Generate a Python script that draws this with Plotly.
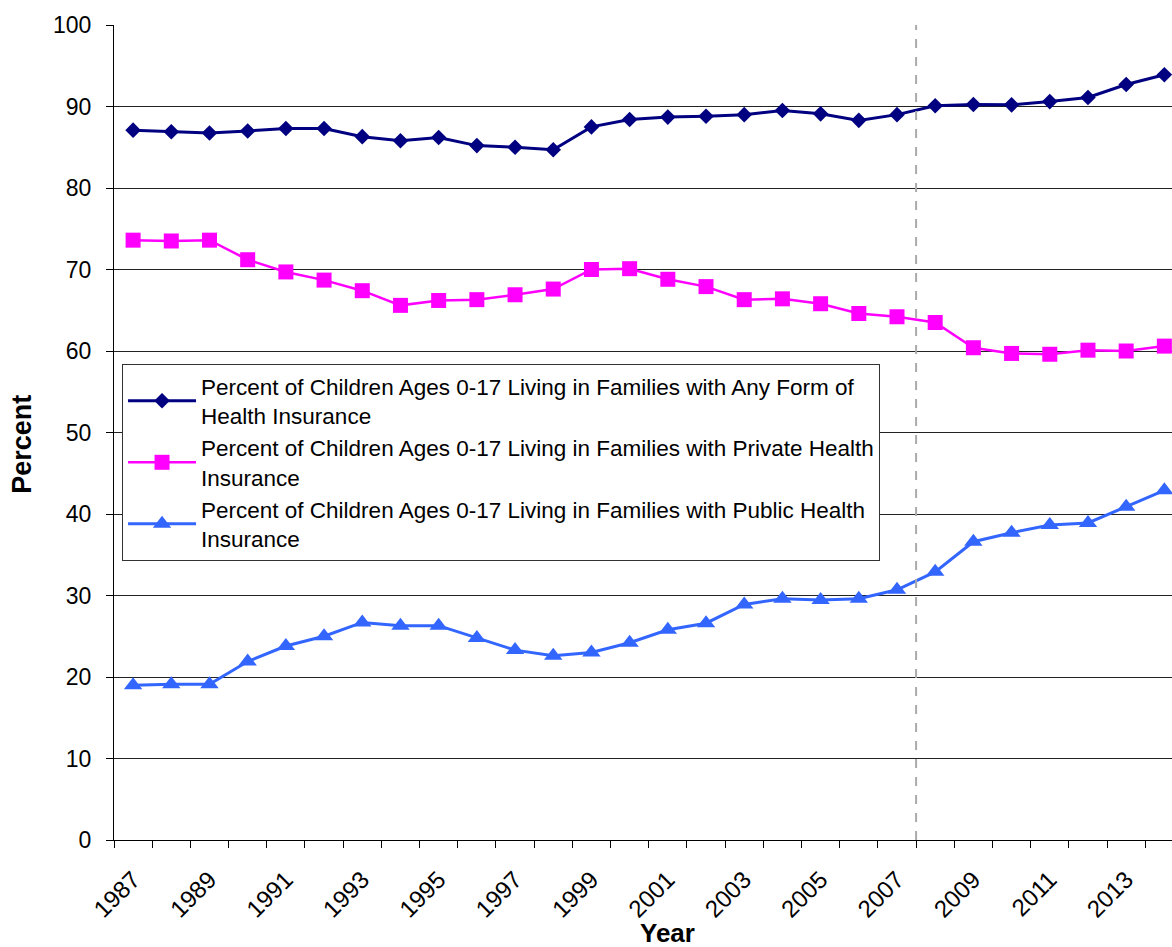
import plotly.graph_objects as go

# Survey years
years = list(range(1987, 2015))

# Percent of children ages 0-17 living in families with...
any_insurance = [87.1, 86.9, 86.75, 87.0, 87.3, 87.3, 86.3, 85.8, 86.2, 85.2,
                 85.0, 84.7, 87.5, 88.4, 88.7, 88.8, 89.0, 89.5, 89.1, 88.3,
                 89.0, 90.1, 90.25, 90.2, 90.6, 91.1, 92.7, 93.9]
private_insurance = [73.6, 73.5, 73.6, 71.2, 69.7, 68.7, 67.4, 65.6, 66.2, 66.3,
                     66.9, 67.6, 70.0, 70.1, 68.8, 67.9, 66.3, 66.4, 65.8, 64.6,
                     64.2, 63.5, 60.4, 59.7, 59.6, 60.1, 60.0, 60.6]
public_insurance = [19.0, 19.1, 19.1, 21.9, 23.8, 25.0, 26.7, 26.3, 26.3, 24.8,
                    23.3, 22.6, 23.0, 24.2, 25.8, 26.6, 28.9, 29.6, 29.45, 29.6,
                    30.7, 32.9, 36.6, 37.7, 38.65, 38.9, 40.9, 42.9]

series_names = [
    "Percent of Children Ages 0-17 Living in Families with Any Form of<br>Health Insurance",
    "Percent of Children Ages 0-17 Living in Families with Private Health<br>Insurance",
    "Percent of Children Ages 0-17 Living in Families with Public Health<br>Insurance",
]

label_years = list(range(1987, 2014, 2))
break_year = 2007.5

FONT = "Liberation Sans, Arial, sans-serif"

fig = go.Figure()
fig.add_trace(go.Scatter(
    x=years, y=any_insurance, name=series_names[0], mode="lines+markers",
    line=dict(color="#000080", width=3),
    marker=dict(symbol="diamond", size=12, color="#000080"),
))
fig.add_trace(go.Scatter(
    x=years, y=private_insurance, name=series_names[1], mode="lines+markers",
    line=dict(color="#FF00FF", width=2.5),
    marker=dict(symbol="square", size=15, color="#FF00FF"),
))
fig.add_trace(go.Scatter(
    x=years, y=public_insurance, name=series_names[2], mode="lines+markers",
    line=dict(color="#3366FF", width=3),
    marker=dict(symbol="triangle-up", size=16, color="#3366FF"),
))

# dashed marker between 2007 and 2008
fig.add_shape(type="line", xref="x", yref="y", x0=break_year, x1=break_year,
              y0=0, y1=100, line=dict(color="#AAAAAA", width=2, dash="dash"),
              layer="above")

fig.update_layout(
    width=1172, height=947,
    margin=dict(l=114, r=0, t=25, b=107),
    paper_bgcolor="white", plot_bgcolor="white",
    font=dict(family=FONT, color="black"),
    showlegend=True,
    legend=dict(
        x=0.0076, y=0.584, xanchor="left", yanchor="top",
        bgcolor="white", bordercolor="#333333", borderwidth=1,
        font=dict(family=FONT, size=22.5, color="black"),
        tracegroupgap=0, itemwidth=68,
    ),
    xaxis=dict(
        range=[1986.5, 2014.2],
        tickmode="array", tickvals=label_years, ticktext=[str(y) for y in label_years],
        tickangle=-45, tickfont=dict(family=FONT, size=24),
        ticks="outside", ticklen=7, tickcolor="rgba(0,0,0,0)",
        ticklabelstandoff=8,
        showgrid=False, zeroline=False,
        showline=True, linecolor="black", linewidth=1,
        minor=dict(ticks="outside", tick0=1986.5, dtick=1, ticklen=7,
                   tickcolor="black", tickwidth=1, showgrid=False),
    ),
    yaxis=dict(
        range=[0, 100], dtick=10, tick0=0,
        tickfont=dict(family=FONT, size=23),
        ticks="outside", ticklen=7, tickcolor="black",
        ticklabelstandoff=10,
        showgrid=True, gridcolor="#222222", gridwidth=1,
        zeroline=False, showline=True, linecolor="black", linewidth=1,
    ),
    annotations=[
        dict(text="<b>Year</b>", xref="paper", yref="paper", x=0.5236, y=-0.1143,
             xanchor="center", yanchor="middle", showarrow=False,
             font=dict(family=FONT, size=26, color="black")),
        dict(text="<b>Percent</b>", xref="paper", yref="paper", x=-0.087, y=0.486,
             xanchor="center", yanchor="middle", showarrow=False, textangle=-90,
             font=dict(family=FONT, size=27, color="black")),
    ],
)

fig.write_html("out.html")
